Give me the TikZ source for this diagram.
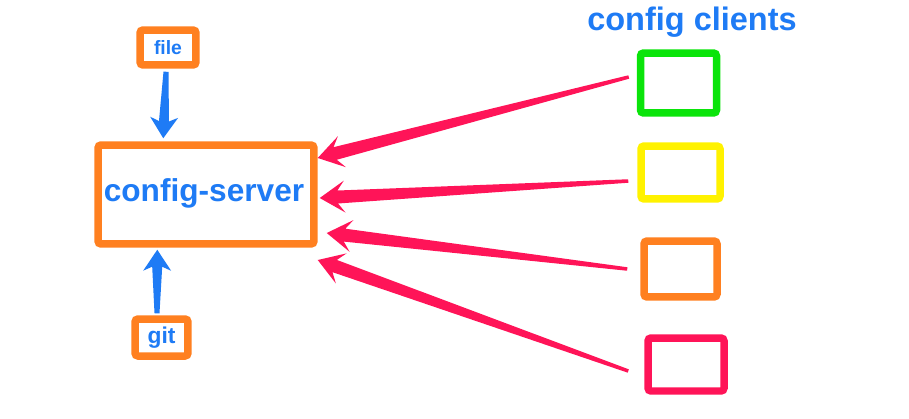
\documentclass[tikz,border=0pt]{standalone}
\usepackage{fontspec}
\setmainfont{Liberation Sans}
\usetikzlibrary{calc}

\definecolor{boxorange}{RGB}{255,128,32}
\definecolor{boxgreen}{RGB}{10,228,10}
\definecolor{boxyellow}{RGB}{255,242,0}
\definecolor{boxpink}{RGB}{255,20,88}
\definecolor{textblue}{RGB}{30,123,245}

% tapered arrow from #1 (tail) to #2 (tip), filled with #3
\newcommand{\taperarrow}[3]{%
  \fill[#3] (#2)
    -- ($(#2)!\headlen!(#1)!\headwd!90:(#1)$)
    -- ($(#2)!\notchlen!(#1)!\shaftwd!90:(#1)$)
    -- ($(#1)!\tailwd!-90:(#2)$)
    -- ($(#1)!\tailwd!90:(#2)$)
    -- ($(#2)!\notchlen!(#1)!\shaftwd!-90:(#1)$)
    -- ($(#2)!\headlen!(#1)!\headwd!-90:(#1)$)
    -- cycle;}

\begin{document}
\begin{tikzpicture}[x=0.02cm,y=-0.02cm]
\useasboundingbox (0,0) rectangle (909,419);
\tikzstyle{box}=[rectangle, draw, line width=0.15cm, rounded corners=0.06cm, fill=white]
\tikzstyle{label}=[text=textblue, font=\bfseries]

\node[box, draw=boxorange, minimum width = 1.12cm,
    minimum height = 0.7cm] (file) at (168,47.5) {};
\node[box, draw=boxorange, minimum width = 4.32cm,
    minimum height = 1.98cm] (srv) at (206,194.5) {};
\node[box, draw=boxorange, minimum width = 1.06cm,
    minimum height = 0.74cm] (git) at (161.5,337.5) {};

\node[box, draw=boxgreen, minimum width = 1.52cm,
    minimum height = 1.2cm] (c1) at (678.5,83) {};
\node[box, draw=boxyellow, minimum width = 1.58cm,
    minimum height = 1.06cm] (c2) at (680.5,172.5) {};
\node[box, draw=boxorange, minimum width = 1.46cm,
    minimum height = 1.12cm] (c3) at (680.5,269) {};
\node[box, draw=boxpink, minimum width = 1.52cm,
    minimum height = 1.06cm] (c4) at (686,364.5) {};

\node[label, font=\bfseries\fontsize{11}{13}\selectfont] (filetext) at (file) {file};
\node[label, font=\bfseries\fontsize{13}{15}\selectfont] (gittext) at (git) {git};
\node[label, font=\bfseries\fontsize{18}{20}\selectfont] (srvtext) at (204,193) {config-server};
\node[label, font=\bfseries\fontsize{18.5}{21}\selectfont] (clients) at (692,22) {config clients};

% blue arrows into the server
\def\headlen{0.42cm}\def\notchlen{0.34cm}\def\headwd{0.28cm}
\def\shaftwd{0.1cm}\def\tailwd{0.05cm}
\coordinate (ftail) at ($(file.south)+(-2,3)$);
\coordinate (ftip) at ($(srv.north west)+(69,-3)$);
\coordinate (gtail) at ($(git.north)+(-4.5,-2)$);
\coordinate (gtip) at ($(srv.south west)+(63,2)$);
\taperarrow{ftail}{ftip}{textblue}
\taperarrow{gtail}{gtip}{textblue}

% pink arrows from the clients
\def\headlen{0.5cm}\def\notchlen{0.36cm}\def\headwd{0.32cm}
\def\shaftwd{0.13cm}\def\tailwd{0.035cm}
\coordinate (t1) at ($(c1.west)+(-8,-6)$);
\coordinate (t2) at ($(c2.west)+(-9,8.5)$);
\coordinate (t3) at ($(c3.west)+(-13,0)$);
\coordinate (t4) at ($(c4.west)+(-16,6.5)$);
\coordinate (h1) at ($(srv.east)+(0,-36.5)$);
\coordinate (h2) at ($(srv.east)+(2,3.5)$);
\coordinate (h3) at ($(srv.east)+(9,38.5)$);
\coordinate (h4) at ($(srv.east)+(0,65.5)$);
\taperarrow{t1}{h1}{boxpink}
\taperarrow{t2}{h2}{boxpink}
\taperarrow{t3}{h3}{boxpink}
\taperarrow{t4}{h4}{boxpink}
\end{tikzpicture}
\end{document}
